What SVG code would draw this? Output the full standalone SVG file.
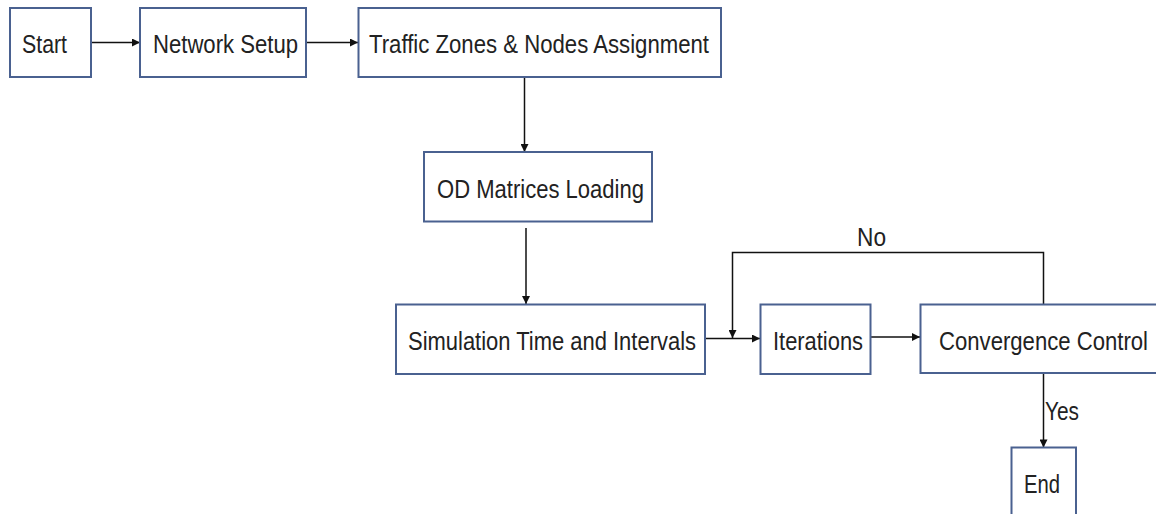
<svg xmlns="http://www.w3.org/2000/svg" width="1156" height="514" viewBox="0 0 1156 514">
<style>
.box{fill:#fff;stroke:#4a6190;stroke-width:2}
.lbl{font-family:"Liberation Sans",Arial,sans-serif;font-size:26px;fill:#222}
.edge{fill:none;stroke:#111;stroke-width:1.5}
</style>
<defs>
<marker id="ah" viewBox="0 0 10 10" refX="10" refY="5" markerWidth="9" markerHeight="8" markerUnits="userSpaceOnUse" orient="auto">
<path d="M0,0 L10,5 L0,10 z" fill="#111"/>
</marker>
</defs>
<rect width="1156" height="514" fill="#fff"/>
<g id="connectors">
<line class="edge" x1="91" y1="42.5" x2="140" y2="42.5" marker-end="url(#ah)"/>
<line class="edge" x1="306" y1="42.5" x2="358" y2="42.5" marker-end="url(#ah)"/>
<line class="edge" x1="524.5" y1="77" x2="524.5" y2="152" marker-end="url(#ah)"/>
<line class="edge" x1="526" y1="228" x2="526" y2="304" marker-end="url(#ah)"/>
<line class="edge" x1="706" y1="338.5" x2="760" y2="338.5" marker-end="url(#ah)"/>
<line class="edge" x1="871" y1="337" x2="920" y2="337" marker-end="url(#ah)"/>
<polyline class="edge" points="1043.5,304 1043.5,252.5 732.5,252.5 732.5,338" marker-end="url(#ah)"/>
<line class="edge" x1="1043.5" y1="374" x2="1043.5" y2="447.5" marker-end="url(#ah)"/>
<text class="lbl" x="857" y="246" textLength="29" lengthAdjust="spacingAndGlyphs">No</text>
<text class="lbl" x="1045" y="420" textLength="34" lengthAdjust="spacingAndGlyphs">Yes</text>
</g>
<g id="start">
<rect class="box" x="10" y="8" width="81" height="69"/>
<text class="lbl" x="22" y="53" textLength="45" lengthAdjust="spacingAndGlyphs">Start</text>
</g>
<g id="network-setup">
<rect class="box" x="140" y="8" width="166" height="69"/>
<text class="lbl" x="153" y="53" textLength="145" lengthAdjust="spacingAndGlyphs">Network Setup</text>
</g>
<g id="traffic-zones">
<rect class="box" x="358.5" y="8" width="362.5" height="69"/>
<text class="lbl" x="369" y="53" textLength="340" lengthAdjust="spacingAndGlyphs">Traffic Zones &amp; Nodes Assignment</text>
</g>
<g id="od-matrices">
<rect class="box" x="424" y="152" width="228" height="69.5"/>
<text class="lbl" x="437" y="198" textLength="207" lengthAdjust="spacingAndGlyphs">OD Matrices Loading</text>
</g>
<g id="simulation-time">
<rect class="box" x="396" y="304.5" width="309" height="69.5"/>
<text class="lbl" x="408" y="350" textLength="288" lengthAdjust="spacingAndGlyphs">Simulation Time and Intervals</text>
</g>
<g id="iterations">
<rect class="box" x="760.5" y="304.5" width="110" height="69.5"/>
<text class="lbl" x="773" y="349.5" textLength="90" lengthAdjust="spacingAndGlyphs">Iterations</text>
</g>
<g id="convergence-control">
<path class="box" d="M1156,304.5 H920.5 V373 H1156"/>
<text class="lbl" x="939" y="349.5" textLength="209" lengthAdjust="spacingAndGlyphs">Convergence Control</text>
</g>
<g id="end">
<path class="box" d="M1011.5,514 V447.5 H1076 V514"/>
<text class="lbl" x="1024" y="493" textLength="36" lengthAdjust="spacingAndGlyphs">End</text>
</g>
</svg>
